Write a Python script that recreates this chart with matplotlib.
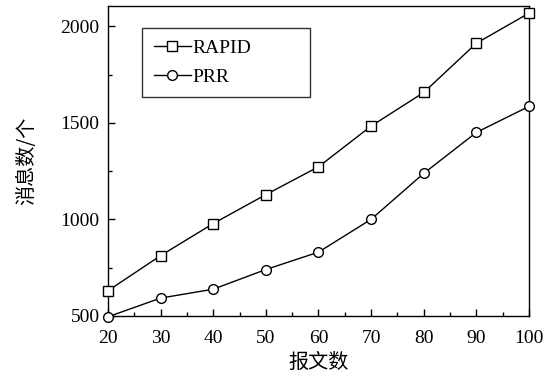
import matplotlib
matplotlib.use("Agg")
import matplotlib.pyplot as plt
from matplotlib.ticker import MultipleLocator

# data
msgs = [20, 30, 40, 50, 60, 70, 80, 90, 100]
rapid = [630, 812, 978, 1128, 1272, 1483, 1657, 1912, 2068]
prr = [495, 592, 638, 740, 830, 1000, 1238, 1450, 1585]

plt.rcParams['font.family'] = ['Liberation Serif', 'Noto Sans CJK SC']
plt.rcParams['font.size'] = 14

fig = plt.figure(figsize=(5.51, 3.76), dpi=100)
ax = fig.add_axes([0.196, 0.160, 0.764, 0.824])

ax.plot(msgs, rapid, c='black', lw=1, marker='s', ms=7, mfc='white', mec='black', mew=1,
        label='RAPID', clip_on=False, zorder=3)
ax.plot(msgs, prr, c='black', lw=1, marker='o', ms=7, mfc='white', mec='black', mew=1,
        label='PRR', clip_on=False, zorder=3)

ax.set_xlim(20, 100)
ax.set_ylim(500, 2105)
ax.xaxis.set_major_locator(MultipleLocator(10))
ax.xaxis.set_minor_locator(MultipleLocator(5))
ax.yaxis.set_major_locator(MultipleLocator(500))
ax.yaxis.set_minor_locator(MultipleLocator(250))
ax.tick_params(which='both', direction='in', top=False, right=False, labelsize=14)
ax.tick_params(which='major', length=5, width=1, pad=6)
ax.tick_params(axis='x', which='major', pad=10)
ax.tick_params(which='minor', length=3, width=1)
for s in ax.spines.values():
    s.set_linewidth(1)

ax.set_xlabel('报文数', family=['Noto Sans CJK SC'], fontsize=14.5, labelpad=4)
ax.set_ylabel('消息数/个', family=['Noto Sans CJK SC'], fontsize=14.5, labelpad=17)

leg = ax.legend(loc='upper left', bbox_to_anchor=(0.081, 0.709, 0.399, 0.22), mode='expand',
                frameon=True, fancybox=False, edgecolor='black', handlelength=1.9,
                handletextpad=0.1, borderpad=0.6, labelspacing=0.55, fontsize=14,
                borderaxespad=0)
leg.get_frame().set_linewidth(1)

fig.savefig('out.png', dpi=100)
